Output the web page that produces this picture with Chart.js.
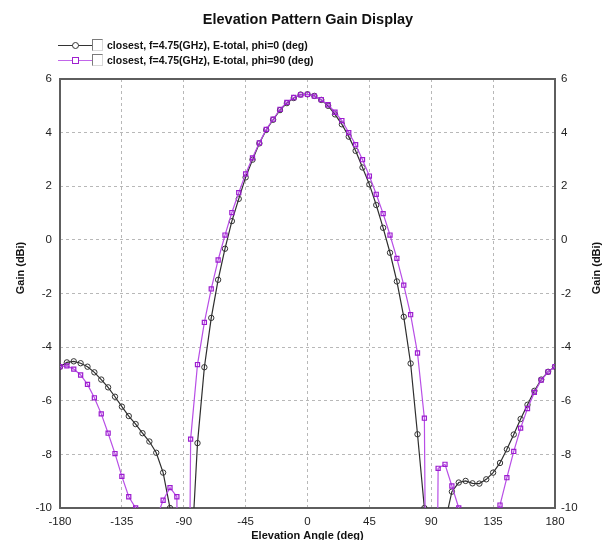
<!DOCTYPE html>
<html lang="en">
<head>
  <meta charset="UTF-8" />
  <title>Elevation Pattern Gain Display</title>
  <script src="https://cdn.jsdelivr.net/npm/chart.js"></script>
  <style>
    body { margin: 0; background: #fff; font-family: Arial, "Liberation Sans", sans-serif; }
    #quadro { position: relative; width: 608px; height: 540px; }
    #grafico { position: absolute; left: 0; top: 0; }
    h1 { position: absolute; left: 0; width: 616px; top: 10px; margin: 0; font-size: 14.5px; line-height: 18px; text-align: center; font-weight: bold; color: #111; }
    .leg { position: absolute; left: 58px; height: 12px; display: flex; align-items: center; font-size: 10.5px; font-weight: bold; color: #111; white-space: nowrap; }
    .amostra { position: relative; width: 34px; height: 12px; }
    .amostra .linha { position: absolute; left: 0; right: 0; top: 6px; height: 1px; }
    .amostra .marca { position: absolute; left: 14px; top: 3px; width: 5px; height: 5px; border: 1px solid; background: #fff; }
    .caixa { width: 9px; height: 10px; border-top: 1px solid #7a7a7a; border-left: 1px solid #7a7a7a; border-right: 1px solid #d8d8d8; border-bottom: 1px solid #d8d8d8; margin-right: 4px; }
  </style>
</head>
<body>
  <div id="quadro">
    <canvas id="grafico" width="608" height="540"></canvas>
    <h1>Elevation Pattern Gain Display</h1>
    <!-- legenda das duas curvas -->
    <div class="leg" style="top:39px">
      <div class="amostra"><div class="linha" style="background:#333"></div><div class="marca" style="border-color:#333;border-radius:50%"></div></div>
      <div class="caixa"></div>closest, f=4.75(GHz), E-total, phi=0 (deg)
    </div>
    <div class="leg" style="top:54px">
      <div class="amostra"><div class="linha" style="background:#c266ea"></div><div class="marca" style="border-color:#a020d0"></div></div>
      <div class="caixa"></div>closest, f=4.75(GHz), E-total, phi=90 (deg)
    </div>
  </div>

  <script>
    // angulo de elevacao (graus)
    const angulos = [-180, -175, -170, -165, -160, -155, -150, -145, -140, -135,
      -130, -125, -120, -115, -110, -105, -100, -95, -90, -85,
      -80, -75, -70, -65, -60, -55, -50, -45, -40, -35,
      -30, -25, -20, -15, -10, -5, 0, 5, 10, 15,
      20, 25, 30, 35, 40, 45, 50, 55, 60, 65,
      70, 75, 80, 85, 90, 95, 100, 105, 110, 115,
      120, 125, 130, 135, 140, 145, 150, 155, 160, 165,
      170, 175, 180];

    // ganho em dBi, phi = 0
    const ganhoPhi0 = [-4.73, -4.57, -4.53, -4.60, -4.73, -4.94, -5.21, -5.50, -5.85, -6.22,
      -6.57, -6.87, -7.21, -7.52, -7.94, -8.68, -10.0, -13.5, -15.0, -12.3,
      -7.58, -4.75, -2.91, -1.49, -0.33, 0.70, 1.53, 2.33, 2.99, 3.60,
      4.10, 4.48, 4.84, 5.10, 5.29, 5.42, 5.43, 5.37, 5.22, 5.00,
      4.68, 4.31, 3.85, 3.32, 2.70, 2.07, 1.30, 0.45, -0.48, -1.55,
      -2.87, -4.61, -7.25, -10.0, -15.0, -13.0, -10.55, -9.39, -9.05, -8.99,
      -9.08, -9.09, -8.93, -8.68, -8.32, -7.81, -7.26, -6.68, -6.15, -5.63,
      -5.21, -4.92, -4.73];

    // ganho em dBi, phi = 90
    const ganhoPhi90 = [-4.73, -4.70, -4.82, -5.04, -5.39, -5.89, -6.49, -7.21, -7.97, -8.82,
      -9.58, -10.0, -11.2, -11.5, -10.4, -9.71, -9.24, -9.58, -40.0, -7.43,
      -4.65, -3.08, -1.83, -0.75, 0.18, 1.02, 1.76, 2.46, 3.06, 3.62,
      4.12, 4.50, 4.87, 5.13, 5.31, 5.41, 5.43, 5.36, 5.23, 5.04,
      4.76, 4.45, 4.00, 3.55, 2.99, 2.38, 1.70, 0.98, 0.18, -0.69,
      -1.69, -2.79, -4.22, -6.65, -40.0, -8.52, -8.37, -9.18, -10.0, -12.0,
      -13.0, -13.0, -12.5, -11.5, -9.89, -8.87, -7.89, -7.02, -6.29, -5.69,
      -5.23, -4.92, -4.73];

    const ticksX = [-180, -135, -90, -45, 0, 45, 90, 135, 180];
    const ticksY = [-10, -8, -6, -4, -2, 0, 2, 4, 6];

    const fonte = 'Arial, "Liberation Sans", sans-serif';
    const fonteTicks = { family: fonte, size: 11.5 };

    // moldura do grafico e titulos dos eixos
    const moldura = {
      id: 'moldura',
      beforeDatasetsDraw(chart) {
        const { ctx, chartArea: a } = chart;
        ctx.save();
        ctx.strokeStyle = '#5e5e5e';
        ctx.lineWidth = 2;
        ctx.strokeRect(a.left, a.top, a.right - a.left, a.bottom - a.top);
        ctx.restore();
      },
      afterDraw(chart) {
        const { ctx, chartArea: a } = chart;
        ctx.save();
        ctx.fillStyle = '#111';
        ctx.font = 'bold 11px ' + fonte;
        ctx.textAlign = 'center';
        ctx.textBaseline = 'middle';
        ctx.fillText('Elevation Angle (deg)', (a.left + a.right) / 2, 536);
        [21, 597].forEach(x => {
          ctx.save();
          ctx.translate(x, 268);
          ctx.rotate(-Math.PI / 2);
          ctx.fillText('Gain (dBi)', 0, 0);
          ctx.restore();
        });
        ctx.restore();
      }
    };

    const grade = { color: '#b8b8b8', lineWidth: 1, drawTicks: false };
    const eixoY = (lado, largura) => ({
      position: lado,
      min: -10,
      max: 6,
      afterBuildTicks: s => { s.ticks = ticksY.map(v => ({ value: v })); },
      afterFit: s => { s.width = largura; },
      grid: lado === 'left' ? grade : { display: false, drawTicks: false },
      border: { display: false, dash: [3, 3] },
      ticks: { color: '#222', font: fonteTicks, padding: lado === 'left' ? 8 : 6 }
    });

    new Chart(document.getElementById('grafico'), {
      type: 'line',
      data: {
        datasets: [
          {
            label: 'closest, f=4.75(GHz), E-total, phi=0 (deg)',
            data: angulos.map((a, i) => ({ x: a, y: ganhoPhi0[i] })),
            borderColor: '#2e2e2e',
            borderWidth: 1.2,
            pointStyle: 'circle',
            pointRadius: 2.7,
            pointBorderWidth: 1,
            pointBorderColor: '#333',
            pointBackgroundColor: 'rgba(255,255,255,0)',
            tension: 0,
            order: 2
          },
          {
            label: 'closest, f=4.75(GHz), E-total, phi=90 (deg)',
            data: angulos.map((a, i) => ({ x: a, y: ganhoPhi90[i] })),
            borderColor: '#b84ee6',
            borderWidth: 1.2,
            pointStyle: 'rect',
            pointRadius: 2.9,
            pointBorderWidth: 1.2,
            pointBorderColor: '#9c1ccf',
            pointBackgroundColor: 'rgba(255,255,255,0)',
            tension: 0,
            order: 1
          }
        ]
      },
      options: {
        responsive: false,
        animation: false,
        layout: { padding: { top: 79, left: 0, right: 0, bottom: 0 } },
        plugins: { legend: { display: false }, tooltip: { enabled: false }, title: { display: false } },
        scales: {
          x: {
            type: 'linear',
            min: -180,
            max: 180,
            afterBuildTicks: s => { s.ticks = ticksX.map(v => ({ value: v })); },
            afterFit: s => { s.height = 32; },
            grid: grade,
            border: { display: false, dash: [3, 3] },
            ticks: { color: '#222', font: fonteTicks, padding: 7, maxRotation: 0, autoSkip: false }
          },
          y: eixoY('left', 60),
          y2: eixoY('right', 53)
        }
      },
      plugins: [moldura]
    });
  </script>
</body>
</html>
